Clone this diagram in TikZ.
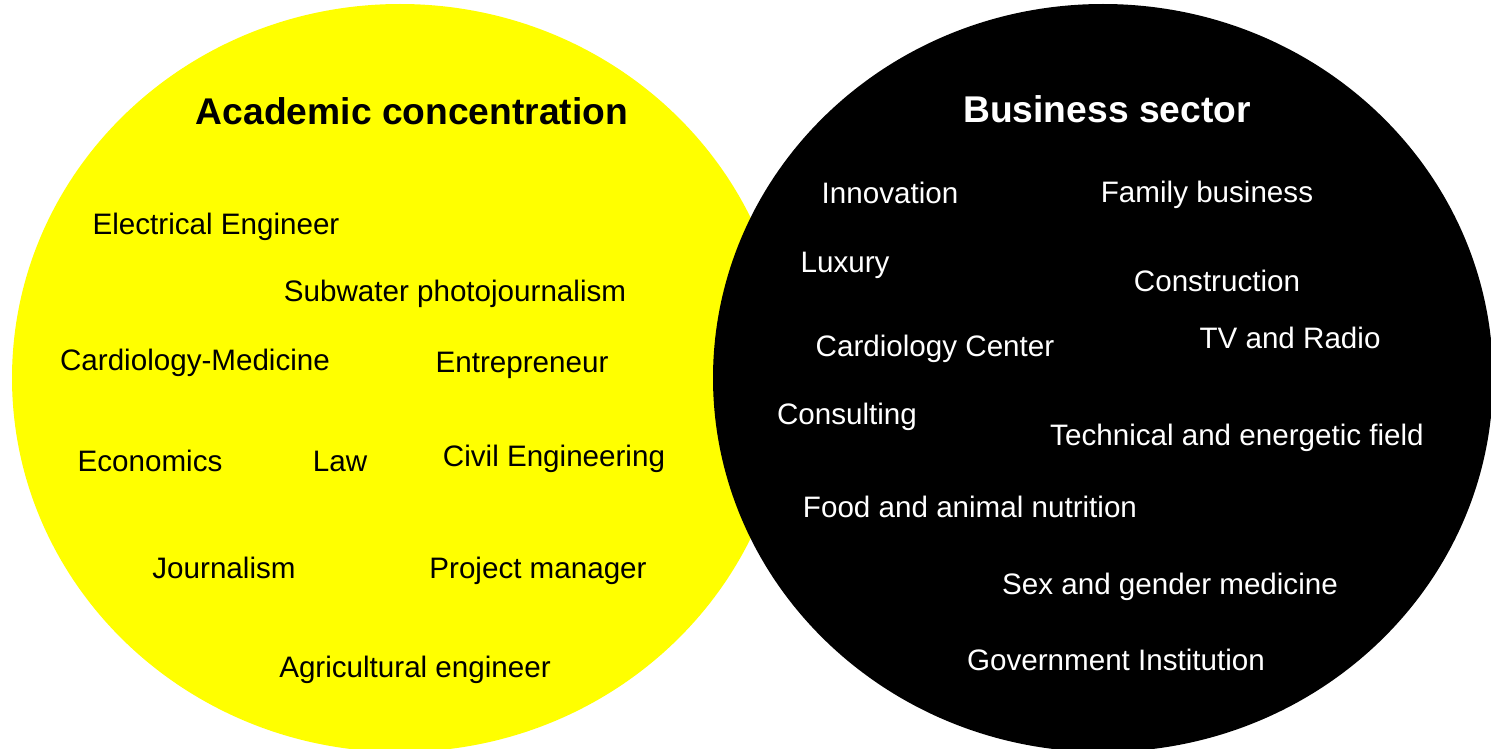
\documentclass[tikz,border=0pt]{standalone}
\usepackage{fontspec}
\setmainfont{Liberation Sans}

\tikzset{every picture/.style={line width=0.75pt}}
\tikzset{
  item/.style={anchor=base,inner sep=0pt,font=\fontsize{29.6}{34}\selectfont},
  heading/.style={anchor=base,inner sep=0pt,font=\fontsize{37.2}{44}\selectfont\bfseries},
}

\begin{document}
\begin{tikzpicture}[x=1pt,y=1pt,yscale=-1,xscale=1]
\useasboundingbox (0,0) rectangle (1491,749);

%Shape: Ellipse [id:academic]
\fill [fill={rgb, 255:red, 255; green, 255; blue, 0 }] (400,378) ellipse [x radius=388, y radius=374];
%Shape: Ellipse [id:business]
\fill [fill={rgb, 255:red, 0; green, 0; blue, 0 }] (1103,378) ellipse [x radius=390, y radius=374];

% Text Node
\node [heading] (acad) at (412,125) {Academic concentration};
% Text Node
\node [item] (elec) at (216,234) {Electrical Engineer};
% Text Node
\node [item] (subw) at (455,301) {Subwater photojournalism};
% Text Node
\node [item] (cardm) at (195,370) {Cardiology-Medicine};
% Text Node
\node [item] (entr) at (522,372) {Entrepreneur};
% Text Node
\node [item] (econ) at (150,471) {Economics};
% Text Node
\node [item] (law) at (340,471) {Law};
% Text Node
\node [item] (civil) at (554,466) {Civil Engineering};
% Text Node
\node [item] (journ) at (224,578) {Journalism};
% Text Node
\node [item] (proj) at (538,578) {Project manager};
% Text Node
\node [item] (agri) at (415,677) {Agricultural engineer};

% Text Node
\node [heading,white] (bus) at (1107,123) {Business sector};
% Text Node
\node [item,white] (innov) at (890,203) {Innovation};
% Text Node
\node [item,white] (family) at (1207,202) {Family business};
% Text Node
\node [item,white] (lux) at (845,272) {Luxury};
% Text Node
\node [item,white] (constr) at (1217,291) {Construction};
% Text Node
\node [item,white] (cardc) at (935,356) {Cardiology Center};
% Text Node
\node [item,white] (tv) at (1290,348) {TV and Radio};
% Text Node
\node [item,white] (consult) at (847,424) {Consulting};
% Text Node
\node [item,white] (tech) at (1237,445) {Technical and energetic field};
% Text Node
\node [item,white] (food) at (970,517) {Food and animal nutrition};
% Text Node
\node [item,white] (sex) at (1170,594) {Sex and gender medicine};
% Text Node
\node [item,white] (gov) at (1116,670) {Government Institution};

\end{tikzpicture}
\end{document}
